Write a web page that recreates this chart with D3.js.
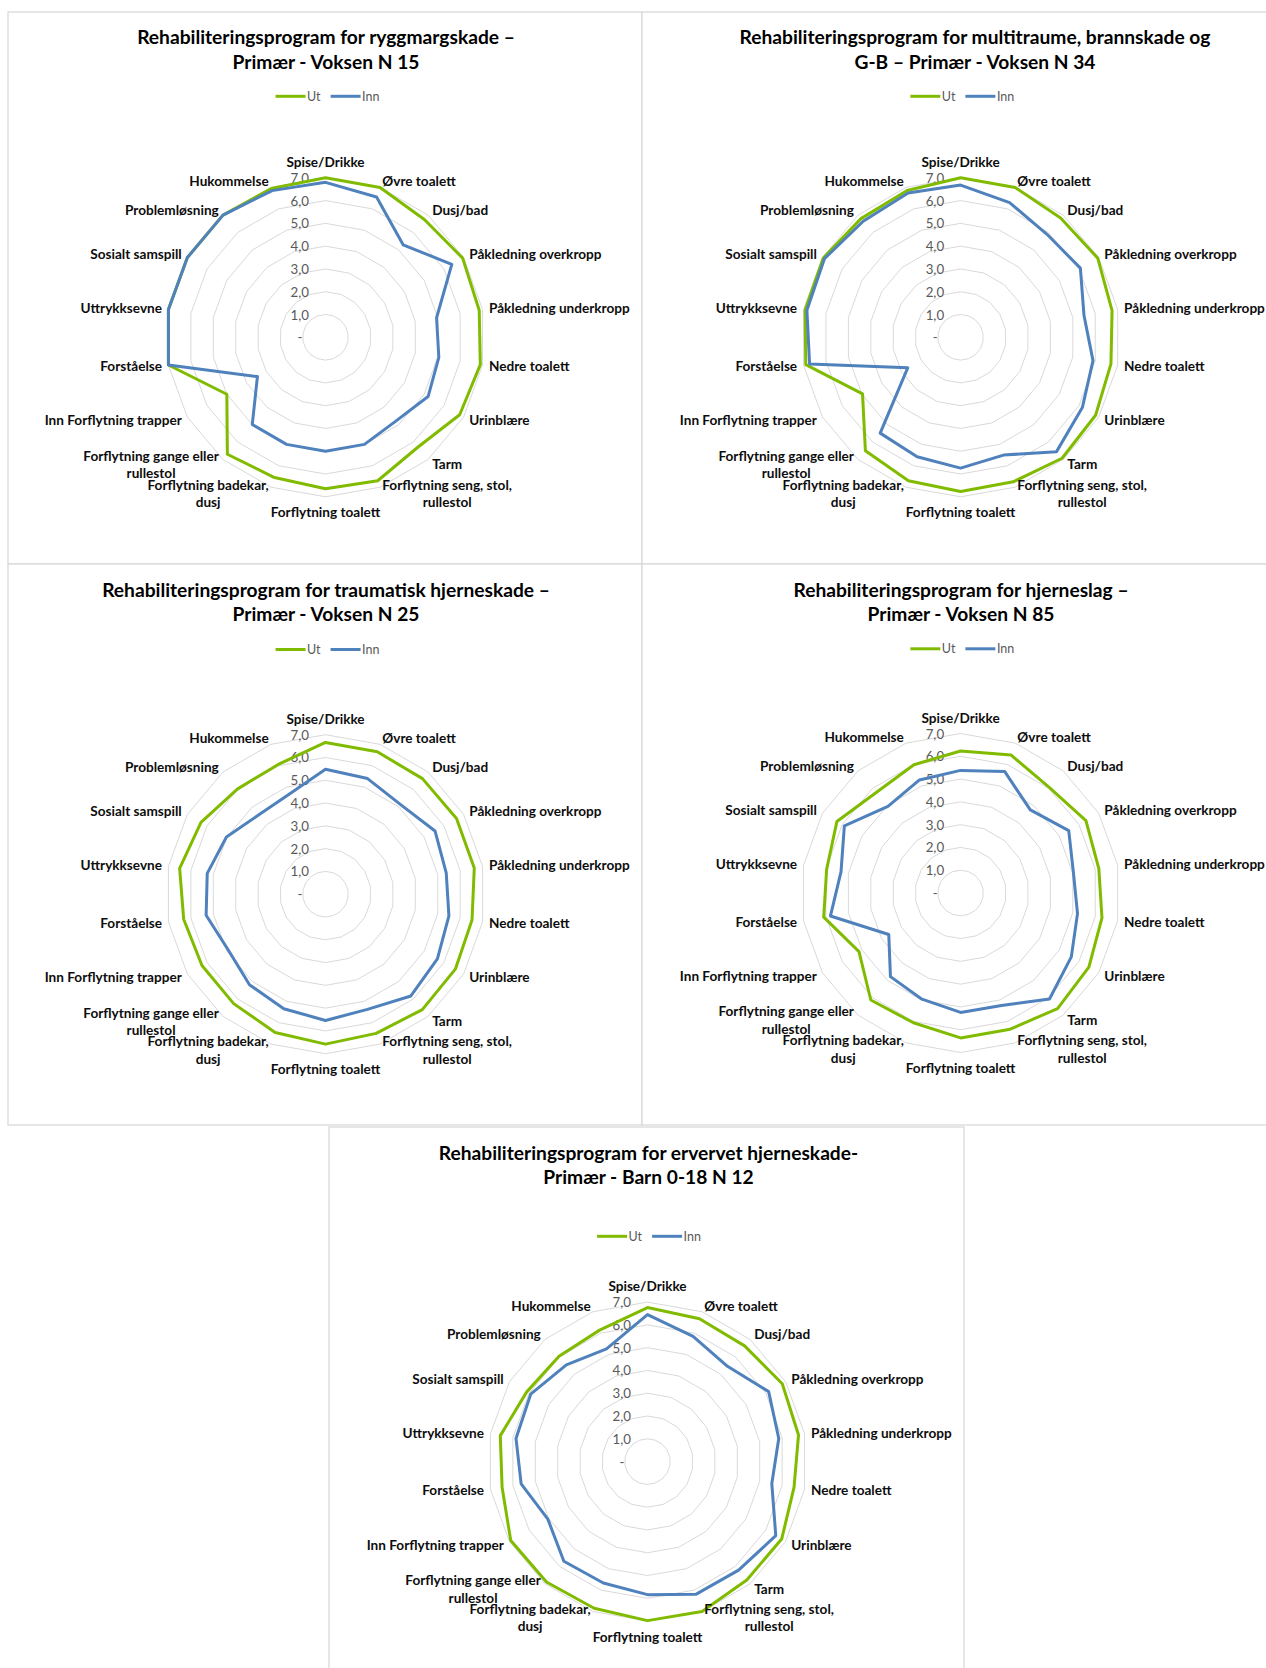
<!DOCTYPE html>
<html><head><meta charset="utf-8">
<script src="https://cdn.jsdelivr.net/npm/d3@7"></script>
<style>
body{margin:0;background:#fff;}
svg{display:block;font-family:Lato,'Open Sans',sans-serif;}
</style>
</head><body>
<svg id="c" width="1266" height="1668"></svg>
<script>
// ---------- data ----------
const categories = ["Spise/Drikke","Øvre toalett","Dusj/bad","Påkledning overkropp","Påkledning underkropp",
  "Nedre toalett","Urinblære","Tarm","Forflytning seng, stol, rullestol","Forflytning toalett",
  "Forflytning badekar, dusj","Forflytning gange eller rullestol","Inn Forflytning trapper","Forståelse",
  "Uttrykksevne","Sosialt samspill","Problemløsning","Hukommelse"];
const seriesNames = ["Ut","Inn"];
const tickValues = [0,1,2,3,4,5,6,7];
const tickLabels = ["-","1,0","2,0","3,0","4,0","5,0","6,0","7,0"];

const titleRyggmarg = ["Rehabiliteringsprogram for ryggmargskade –","Primær - Voksen N 15"];
const utRyggmarg  = [7.0,7.0,6.75,6.95,6.85,6.9,6.8,6.3,6.7,6.65,6.55,6.7,5.0,7.0,7.0,7.0,7.0,6.95];
const innRyggmarg = [6.8,6.55,5.3,6.4,4.95,5.05,5.2,4.8,5.0,5.0,5.0,5.0,3.45,7.0,7.0,7.0,7.0,6.85];

const titleMulti = ["Rehabiliteringsprogram for multitraume, brannskade og","G-B – Primær - Voksen N 34"];
const utMulti  = [7.0,7.0,6.83,6.95,6.75,6.7,6.84,6.93,6.75,6.77,6.7,6.5,4.97,6.9,6.93,6.96,6.8,6.86];
const innMulti = [6.68,6.29,5.9,6.07,5.5,5.9,6.17,6.55,5.5,5.74,5.58,5.49,2.68,6.73,6.85,6.9,6.65,6.74];

const titleTraume = ["Rehabiliteringsprogram for traumatisk hjerneskade –","Primær - Voksen N 25"];
const utTraume  = [6.66,6.65,6.62,6.64,6.63,6.53,6.58,6.61,6.5,6.58,6.46,6.27,6.26,6.32,6.5,6.31,6.02,6.06];
const innTraume = [5.48,5.4,5.13,5.55,5.38,5.5,5.67,5.83,5.38,5.54,5.35,5.19,4.92,5.32,5.27,5.02,4.55,4.67];

const titleSlag = ["Rehabiliteringsprogram for hjerneslag –","Primær - Voksen N 85"];
const utSlag  = [6.23,6.45,6.05,6.35,6.16,6.3,6.5,6.62,6.36,6.36,6.06,6.13,5.15,6.1,5.97,6.27,5.76,5.99];
const innSlag = [5.38,5.67,4.76,5.48,5.03,5.21,5.61,6.07,5.25,5.24,4.96,4.79,3.64,5.8,5.33,5.89,4.96,5.28];

const titleBarn = ["Rehabiliteringsprogram for ervervet hjerneskade-","Primær - Barn 0-18 N 12"];
const utBarn  = [6.76,6.67,6.63,6.83,6.73,6.53,6.8,6.78,7.0,6.98,6.85,6.9,6.93,6.48,6.56,6.12,6.04,6.14];
const innBarn = [6.45,5.85,5.46,6.14,5.85,5.54,6.5,6.22,6.2,5.84,5.67,5.71,5.05,5.63,5.86,5.92,5.54,5.26];

// ---------- layout ----------
const colors = {Ut:"#80bb00", Inn:"#4f81bd"};
const R = 159.5;
const charts = [
  {title:titleRyggmarg, ut:utRyggmarg, inn:innRyggmarg, rect:[8,12,634,552],  cx:325.5, cy:337.3, tx:326, ty:[36.4,61.8], ly:96.3, lx:327.5},
  {title:titleMulti,    ut:utMulti,    inn:innMulti,    rect:[642,12,650,552], cx:960.6, cy:337.3, tx:975, ty:[36.4,61.4], ly:96.3, lx:962.3},
  {title:titleTraume,   ut:utTraume,   inn:innTraume,   rect:[8,564,634,561], cx:325.5, cy:894.2, tx:326, ty:[589.5,613.9], ly:649.5, lx:327.5},
  {title:titleSlag,     ut:utSlag,     inn:innSlag,     rect:[642,564,650,561], cx:960.6, cy:893.0, tx:961, ty:[589.5,613.4], ly:648.8, lx:962.3},
  {title:titleBarn,     ut:utBarn,     inn:innBarn,     rect:[329,1127,635,560], cx:647.5, cy:1461.6, tx:648.5, ty:[1152,1176.5], ly:1236.3, lx:649}
];

const svg = d3.select("#c");
const rScale = d3.scaleLinear().domain([0,7]).range([0,R]);
const aScale = d3.scaleLinear().domain([0,categories.length]).range([0,2*Math.PI]);

function wrapLabel(s){
  if (s.length > 24){ const i = s.lastIndexOf(" "); return [s.slice(0,i), s.slice(i+1)]; }
  return [s];
}

// panels
charts.forEach(c=>{
  svg.append("rect").attr("x",c.rect[0]).attr("y",c.rect[1]).attr("width",c.rect[2]).attr("height",c.rect[3])
    .attr("fill","#fff").attr("stroke","#d9d9d9").attr("stroke-width",1.3);
});

charts.forEach(c=>{
  const g = svg.append("g");
  // title
  c.title.forEach((t,i)=>{
    g.append("text").attr("x",c.tx).attr("y",c.ty[i]).attr("text-anchor","middle")
      .attr("dominant-baseline","central").attr("font-weight","bold").attr("font-size","19.2px")
      .attr("fill","#000").text(t);
  });
  // legend
  const lg = g.append("g");
  let x = 0;
  seriesNames.forEach((n,i)=>{
    lg.append("line").attr("x1",x).attr("x2",x+30).attr("y1",c.ly).attr("y2",c.ly)
      .attr("stroke",colors[n]).attr("stroke-width",3);
    const t = lg.append("text").attr("x",x+31.5).attr("y",c.ly).attr("dominant-baseline","central")
      .attr("font-size","12.5px").attr("fill","#595959").text(n);
    x += 31.5 + t.node().getComputedTextLength() + 10;
  });
  const lw = x - 10;
  lg.attr("transform",`translate(${c.lx - lw/2},0)`);

  const pg = g.append("g").attr("transform",`translate(${c.cx},${c.cy})`);
  // grid
  const gridLine = d3.lineRadial().curve(d3.curveLinearClosed)
    .angle((d,i)=>aScale(i)).radius(d=>rScale(d));
  tickValues.filter(v=>v>0).forEach(v=>{
    pg.append("path").attr("d",gridLine(categories.map(()=>v)))
      .attr("fill","none").attr("stroke","#d9d9d9").attr("stroke-width",1);
  });
  // tick labels
  tickValues.forEach((v,i)=>{
    pg.append("text").attr("x", v===0 ? -23 : -16.5).attr("y",-rScale(v))
      .attr("text-anchor","end").attr("dominant-baseline","central")
      .attr("font-size","13.3px").attr("fill","#595959").text(tickLabels[i]);
  });
  // series
  const line = d3.lineRadial().curve(d3.curveLinearClosed)
    .angle((d,i)=>aScale(i)).radius(d=>rScale(d));
  [["Ut",c.ut],["Inn",c.inn]].forEach(([n,vals])=>{
    pg.append("path").attr("d",line(vals)).attr("fill","none")
      .attr("stroke",colors[n]).attr("stroke-width",3).attr("stroke-linejoin","round");
  });
  // category labels
  categories.forEach((cat,i)=>{
    const a = aScale(i);
    const s = Math.sin(a), co = Math.cos(a);
    const vx = rScale(7)*s, vy = -rScale(7)*co;
    let ax = vx + 6.5*s, ay = vy - 6.5*co;
    let anchor = "middle";
    if (s > 0.01) anchor = "start"; else if (s < -0.01) anchor = "end";
    else ay += (co > 0 ? -9.5 : 9);
    const lines = wrapLabel(cat);
    const lh = 17.5;
    const texts = lines.map((ln,k)=> pg.append("text")
      .attr("y", ay + (k - (lines.length-1)/2)*lh)
      .attr("dominant-baseline","central").attr("text-anchor","middle")
      .attr("font-weight","bold").attr("font-size","13.6px").attr("fill","#0d0d0d").text(ln));
    const maxW = d3.max(texts, t=>t.node().getComputedTextLength());
    const xc = anchor==="start" ? ax + maxW/2 : anchor==="end" ? ax - maxW/2 : ax;
    texts.forEach(t=>t.attr("x",xc));
  });
});
</script>
</body></html>
